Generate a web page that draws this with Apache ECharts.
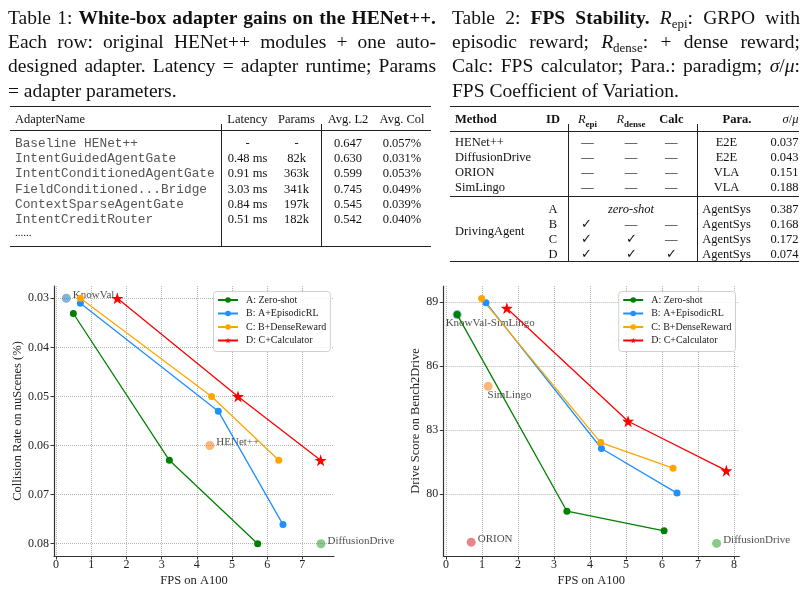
<!DOCTYPE html>
<html>
<head>
<meta charset="utf-8">
<script src="https://cdn.jsdelivr.net/npm/echarts@6/dist/echarts.min.js"></script>
<style>
  html, body { margin: 0; padding: 0; background: #fff; }
  #page { position: relative; width: 806px; height: 591px; overflow: hidden;
          font-family: 'Liberation Serif', 'Times New Roman', serif; color: #111; }
  #chart { position: absolute; left: 0; top: 0; width: 806px; height: 591px; }
  .cap { position: absolute; top: 5.5px; font-size: 19.5px; line-height: 24.4px; }
  .cap .jl { text-align: justify; text-align-last: justify; }
  .sub { font-size: 13px; position: relative; top: 4px; line-height: 0; }
  .t { position: absolute; white-space: nowrap; font-size: 12.5px; line-height: 15px; }
  .mono { font-family: 'Liberation Mono', 'Courier New', monospace; font-size: 12.8px; color: #555; }
  .rule { position: absolute; background: #222; }
</style>
</head>
<body>
<div id="page">
  <div id="chart"></div>
  <div class="cap" style="left:8px;width:428px;">
    <div class="jl">Table 1: <b>White-box adapter gains on the HENet++.</b></div>
    <div class="jl">Each row: original HENet++ modules + one auto-</div>
    <div class="jl">designed adapter. Latency = adapter runtime; Params</div>
    <div>= adapter parameters.</div>
  </div>
  <div class="cap" style="left:452px;width:348px;">
    <div class="jl">Table 2: <b>FPS Stability.</b> <i>R</i><span class="sub">epi</span>: GRPO with</div>
    <div class="jl">episodic reward; <i>R</i><span class="sub">dense</span>: + dense reward;</div>
    <div class="jl">Calc: FPS calculator; Para.: paradigm; <i>σ</i>/<i>μ</i>:</div>
    <div>FPS Coefficient of Variation.</div>
  </div>
</div>
<script>
// ---- Table 1: adapters
const adapterHeader = ['AdapterName', 'Latency', 'Params', 'Avg. L2', 'Avg. Col'];
const adapterNames = ['Baseline HENet++', 'IntentGuidedAgentGate', 'IntentConditionedAgentGate',
  'FieldConditioned...Bridge', 'ContextSparseAgentGate', 'IntentCreditRouter'];
const adapterLatency = ['-', '0.48 ms', '0.91 ms', '3.03 ms', '0.84 ms', '0.51 ms'];
const adapterParams = ['-', '82k', '363k', '341k', '197k', '182k'];
const adapterL2 = ['0.647', '0.630', '0.599', '0.745', '0.545', '0.542'];
const adapterCol = ['0.057%', '0.031%', '0.053%', '0.049%', '0.039%', '0.040%'];

// ---- Table 2: FPS stability
const baseMethods = ['HENet++', 'DiffusionDrive', 'ORION', 'SimLingo'];
const baseParadigm = ['E2E', 'E2E', 'VLA', 'VLA'];
const baseCv = ['0.037', '0.043', '0.151', '0.188'];
const agentIds = ['A', 'B', 'C', 'D'];
const agentEpi = ['', '✓', '✓', '✓'];
const agentDense = ['', '—', '✓', '✓'];
const agentCalc = ['', '—', '—', '✓'];
const agentCv = ['0.387', '0.168', '0.172', '0.074'];

// ---- Charts
const methodNames = ['A: Zero-shot', 'B: A+EpisodicRL', 'C: B+DenseReward', 'D: C+Calculator'];
const methodColors = ['#008000', '#1e90ff', '#ffa500', '#ff0000'];

// left chart: FPS vs collision rate on nuScenes
const fpsTicksLeft = [0, 1, 2, 3, 4, 5, 6, 7];
const colTicks = [0.03, 0.04, 0.05, 0.06, 0.07, 0.08];
const colA = [[0.49, 0.0331], [3.22, 0.063], [5.73, 0.080]];
const colB = [[0.69, 0.031], [4.61, 0.053], [6.45, 0.0761]];
const colC = [[0.69, 0.030], [4.42, 0.050], [6.33, 0.063]];
const colD = [[1.74, 0.030], [5.17, 0.050], [7.52, 0.063]];
const colRefNames = ['KnowVal', 'HENet++', 'DiffusionDrive'];
const colRefPts = [[0.29, 0.030], [4.37, 0.060], [7.53, 0.080]];

// right chart: FPS vs drive score on Bench2Drive
const fpsTicksRight = [0, 1, 2, 3, 4, 5, 6, 7, 8];
const dsTicks = [80, 83, 86, 89];
const dsA = [[0.31, 88.42], [3.36, 79.2], [6.06, 78.28]];
const dsB = [[1.11, 88.98], [4.32, 82.14], [6.42, 80.05]];
const dsC = [[0.99, 89.17], [4.30, 82.42], [6.31, 81.22]];
const dsD = [[1.69, 88.72], [5.06, 83.42], [7.79, 81.10]];
const dsRefNames = ['KnowVal-SimLingo', 'SimLingo', 'ORION', 'DiffusionDrive'];
const dsRefPts = [[0.31, 88.42], [1.17, 85.06], [0.70, 77.75], [7.52, 77.69]];

// ---------- tables ----------
const page = document.getElementById('page');
function put(html, x, y, align, cls, style) {
  const d = document.createElement('div');
  d.className = 't' + (cls ? ' ' + cls : '');
  d.innerHTML = html;
  d.style.top = (y - 7.5) + 'px';
  if (align === 'c') { d.style.left = x + 'px'; d.style.transform = 'translateX(-50%)'; }
  else if (align === 'r') { d.style.right = (806 - x) + 'px'; }
  else { d.style.left = x + 'px'; }
  if (style) d.style.cssText += style;
  page.appendChild(d);
}
function rule(x, y, w, h) {
  const d = document.createElement('div');
  d.className = 'rule';
  d.style.left = x + 'px'; d.style.top = y + 'px';
  d.style.width = w + 'px'; d.style.height = h + 'px';
  page.appendChild(d);
}

// table 1
rule(10, 106, 421, 1.3);
rule(10, 130.3, 421, 0.8);
rule(10, 246, 421, 1.3);
rule(221.2, 124, 1.1, 122.5);
rule(321.2, 124, 1.1, 122.5);
const t1cols = [247.5, 296.5, 348, 402];
put(adapterHeader[0], 15, 119, 'l');
for (let i = 1; i < adapterHeader.length; i++) put(adapterHeader[i], t1cols[i - 1], 119, 'c');
adapterNames.forEach((n, i) => {
  const y = 143.3 + i * 15.3;
  put(n, 15, y, 'l', 'mono');
  put(adapterLatency[i], t1cols[0], y, 'c');
  put(adapterParams[i], t1cols[1], y, 'c');
  put(adapterL2[i], t1cols[2], y, 'c');
  put(adapterCol[i], t1cols[3], y, 'c');
});
put('......', 15, 232, 'l', '', 'font-size:11px;');

// table 2
rule(450, 106, 349, 1.3);
rule(450, 130.6, 349, 0.8);
rule(450, 196.3, 349, 0.8);
rule(450, 261.2, 349, 1.3);
rule(567.8, 124, 1.1, 137.5);
rule(697.2, 124, 1.1, 137.5);
const t2 = { id: 553, epi: 587.5, dense: 631, calc: 671.3, paraHead: 737, para: 726.5, cv: 798.5 };
put('<b>Method</b>', 455, 119, 'l');
put('<b>ID</b>', t2.id, 119, 'c');
put('<i>R</i><sub style="font-size:9px;font-weight:bold">epi</sub>', t2.epi, 119, 'c');
put('<i>R</i><sub style="font-size:9px;font-weight:bold">dense</sub>', t2.dense, 119, 'c');
put('<b>Calc</b>', t2.calc, 119, 'c');
put('<b>Para.</b>', t2.paraHead, 119, 'c');
put('<i>σ</i>/<i>μ</i>', t2.cv, 119, 'r');
baseMethods.forEach((m, i) => {
  const y = 142.3 + i * 15;
  put(m, 455, y, 'l');
  put('—', t2.epi, y, 'c');
  put('—', t2.dense, y, 'c');
  put('—', t2.calc, y, 'c');
  put(baseParadigm[i], t2.para, y, 'c');
  put(baseCv[i], t2.cv, y, 'r');
});
put('DrivingAgent', 455, 231.5, 'l');
agentIds.forEach((id, i) => {
  const y = 209 + i * 15;
  put(id, t2.id, y, 'c');
  if (i === 0) {
    put('<i>zero-shot</i>', t2.dense, y, 'c');
  } else {
    put(agentEpi[i], t2.epi - 1.5, y, 'c');
    put(agentDense[i], t2.dense, y, 'c');
    put(agentCalc[i], t2.calc, y, 'c');
  }
  put('AgentSys', t2.para, y, 'c');
  put(agentCv[i], t2.cv, y, 'r');
});

// ---------- charts ----------
const FONT = 'Liberation Serif';
const star = 'path://M50,0 L61.8,35.1 L98.1,35.1 L68.9,56.7 L79.4,90.5 L50,69.1 L20.6,90.5 L31.1,56.7 L1.9,35.1 L38.2,35.1 Z';
const refColors = {
  'KnowVal': 'rgba(31,119,180,0.7)',
  'KnowVal-SimLingo': 'rgba(31,119,180,0.7)',
  'HENet++': 'rgba(255,127,14,0.7)',
  'SimLingo': 'rgba(255,127,14,0.7)',
  'DiffusionDrive': 'rgba(44,160,44,0.7)',
  'ORION': 'rgba(214,39,40,0.7)'
};
const refLabelPos = {
  0: { 'KnowVal': ['right', [0, -3]], 'HENet++': ['right', [0, -3]], 'DiffusionDrive': ['right', [0, -3]] },
  1: { 'KnowVal-SimLingo': [[-7, 8], [0, 0]], 'SimLingo': [[4, 8], [0, 0]],
       'ORION': ['right', [0, -3]], 'DiffusionDrive': ['right', [0, -3]] }
};

function xAxis(grid, min, max, ticks) {
  return {
    type: 'value', gridIndex: grid, min: min, max: max,
    name: 'FPS on A100', nameLocation: 'middle', nameGap: 18,
    nameTextStyle: { fontFamily: FONT, fontSize: 12.5, color: '#222' },
    axisLine: { onZero: false, lineStyle: { color: '#333', width: 1.2 } },
    axisTick: { show: true, customValues: ticks, length: 3.5, lineStyle: { color: '#333', width: 1 } },
    axisLabel: { customValues: ticks, fontFamily: FONT, fontSize: 12, color: '#222', margin: 3 },
    splitLine: { show: true, lineStyle: { color: '#b4b4b4', type: 'dotted', width: 1 } }
  };
}
function yAxis(grid, min, max, ticks, name, gap, inverse, fmt) {
  return {
    type: 'value', gridIndex: grid, min: min, max: max, inverse: inverse,
    name: name, nameLocation: 'middle', nameGap: gap,
    nameTextStyle: { fontFamily: FONT, fontSize: 12.5, color: '#222' },
    axisLine: { show: true, onZero: false, lineStyle: { color: '#333', width: 1.2 } },
    axisTick: { show: true, customValues: ticks, length: 3.5, lineStyle: { color: '#333', width: 1 } },
    axisLabel: { customValues: ticks, fontFamily: FONT, fontSize: 12, color: '#222', margin: 5, formatter: fmt },
    splitLine: { show: true, lineStyle: { color: '#b4b4b4', type: 'dotted', width: 1 } }
  };
}
function methodSeries(grid, datasets) {
  return datasets.map((d, i) => ({
    name: methodNames[i], type: 'line', xAxisIndex: grid, yAxisIndex: grid,
    data: d, z: 3,
    symbol: i === 3 ? star : 'circle', symbolSize: i === 3 ? 12 : 7,
    itemStyle: { color: methodColors[i] },
    lineStyle: { color: methodColors[i], width: 1.3 },
    emphasis: { disabled: true }
  }));
}
function refSeries(grid, names, pts) {
  return names.map((n, i) => {
    const p = refLabelPos[grid][n];
    return {
      name: n, type: 'scatter', xAxisIndex: grid, yAxisIndex: grid, z: 2,
      data: [pts[i]], symbolSize: 9,
      itemStyle: { color: refColors[n] },
      label: { show: true, formatter: n, position: p[0], offset: p[1], distance: 2,
               fontFamily: FONT, fontSize: 11, color: '#1a1a1a' },
      emphasis: { disabled: true }
    };
  });
}
function legend(left) {
  return {
    data: methodNames, orient: 'vertical', left: left, top: 291.5,
    padding: [3.5, 4, 6, 3.5], itemWidth: 20, itemHeight: 7, itemGap: 3.5,
    borderColor: '#d0d0d0', borderWidth: 1, borderRadius: 3,
    backgroundColor: 'rgba(255,255,255,0.85)',
    textStyle: { fontFamily: FONT, fontSize: 10, color: '#1a1a1a', padding: [0, 0, 0, 3] },
    selectedMode: false
  };
}

const chart = echarts.init(document.getElementById('chart'), null, { renderer: 'canvas' });
chart.setOption({
  animation: false,
  backgroundColor: '#fff',
  grid: [
    { left: 54, top: 286, width: 280, height: 270 },
    { left: 443.3, top: 286, width: 296, height: 270 }
  ],
  xAxis: [xAxis(0, -0.06, 7.9, fpsTicksLeft), xAxis(1, -0.075, 8.15, fpsTicksRight)],
  yAxis: [
    yAxis(0, 0.0275, 0.0825, colTicks, 'Collision Rate on nuScenes (%)', 28, true, v => v.toFixed(2)),
    yAxis(1, 77.1, 89.76, dsTicks, 'Drive Score on Bench2Drive', 21, false, v => String(v))
  ],
  legend: [legend(213.5), legend(618.7)],
  series: [].concat(
    refSeries(0, colRefNames, colRefPts),
    methodSeries(0, [colA, colB, colC, colD]),
    refSeries(1, dsRefNames, dsRefPts),
    methodSeries(1, [dsA, dsB, dsC, dsD])
  )
});
</script>
</body>
</html>
